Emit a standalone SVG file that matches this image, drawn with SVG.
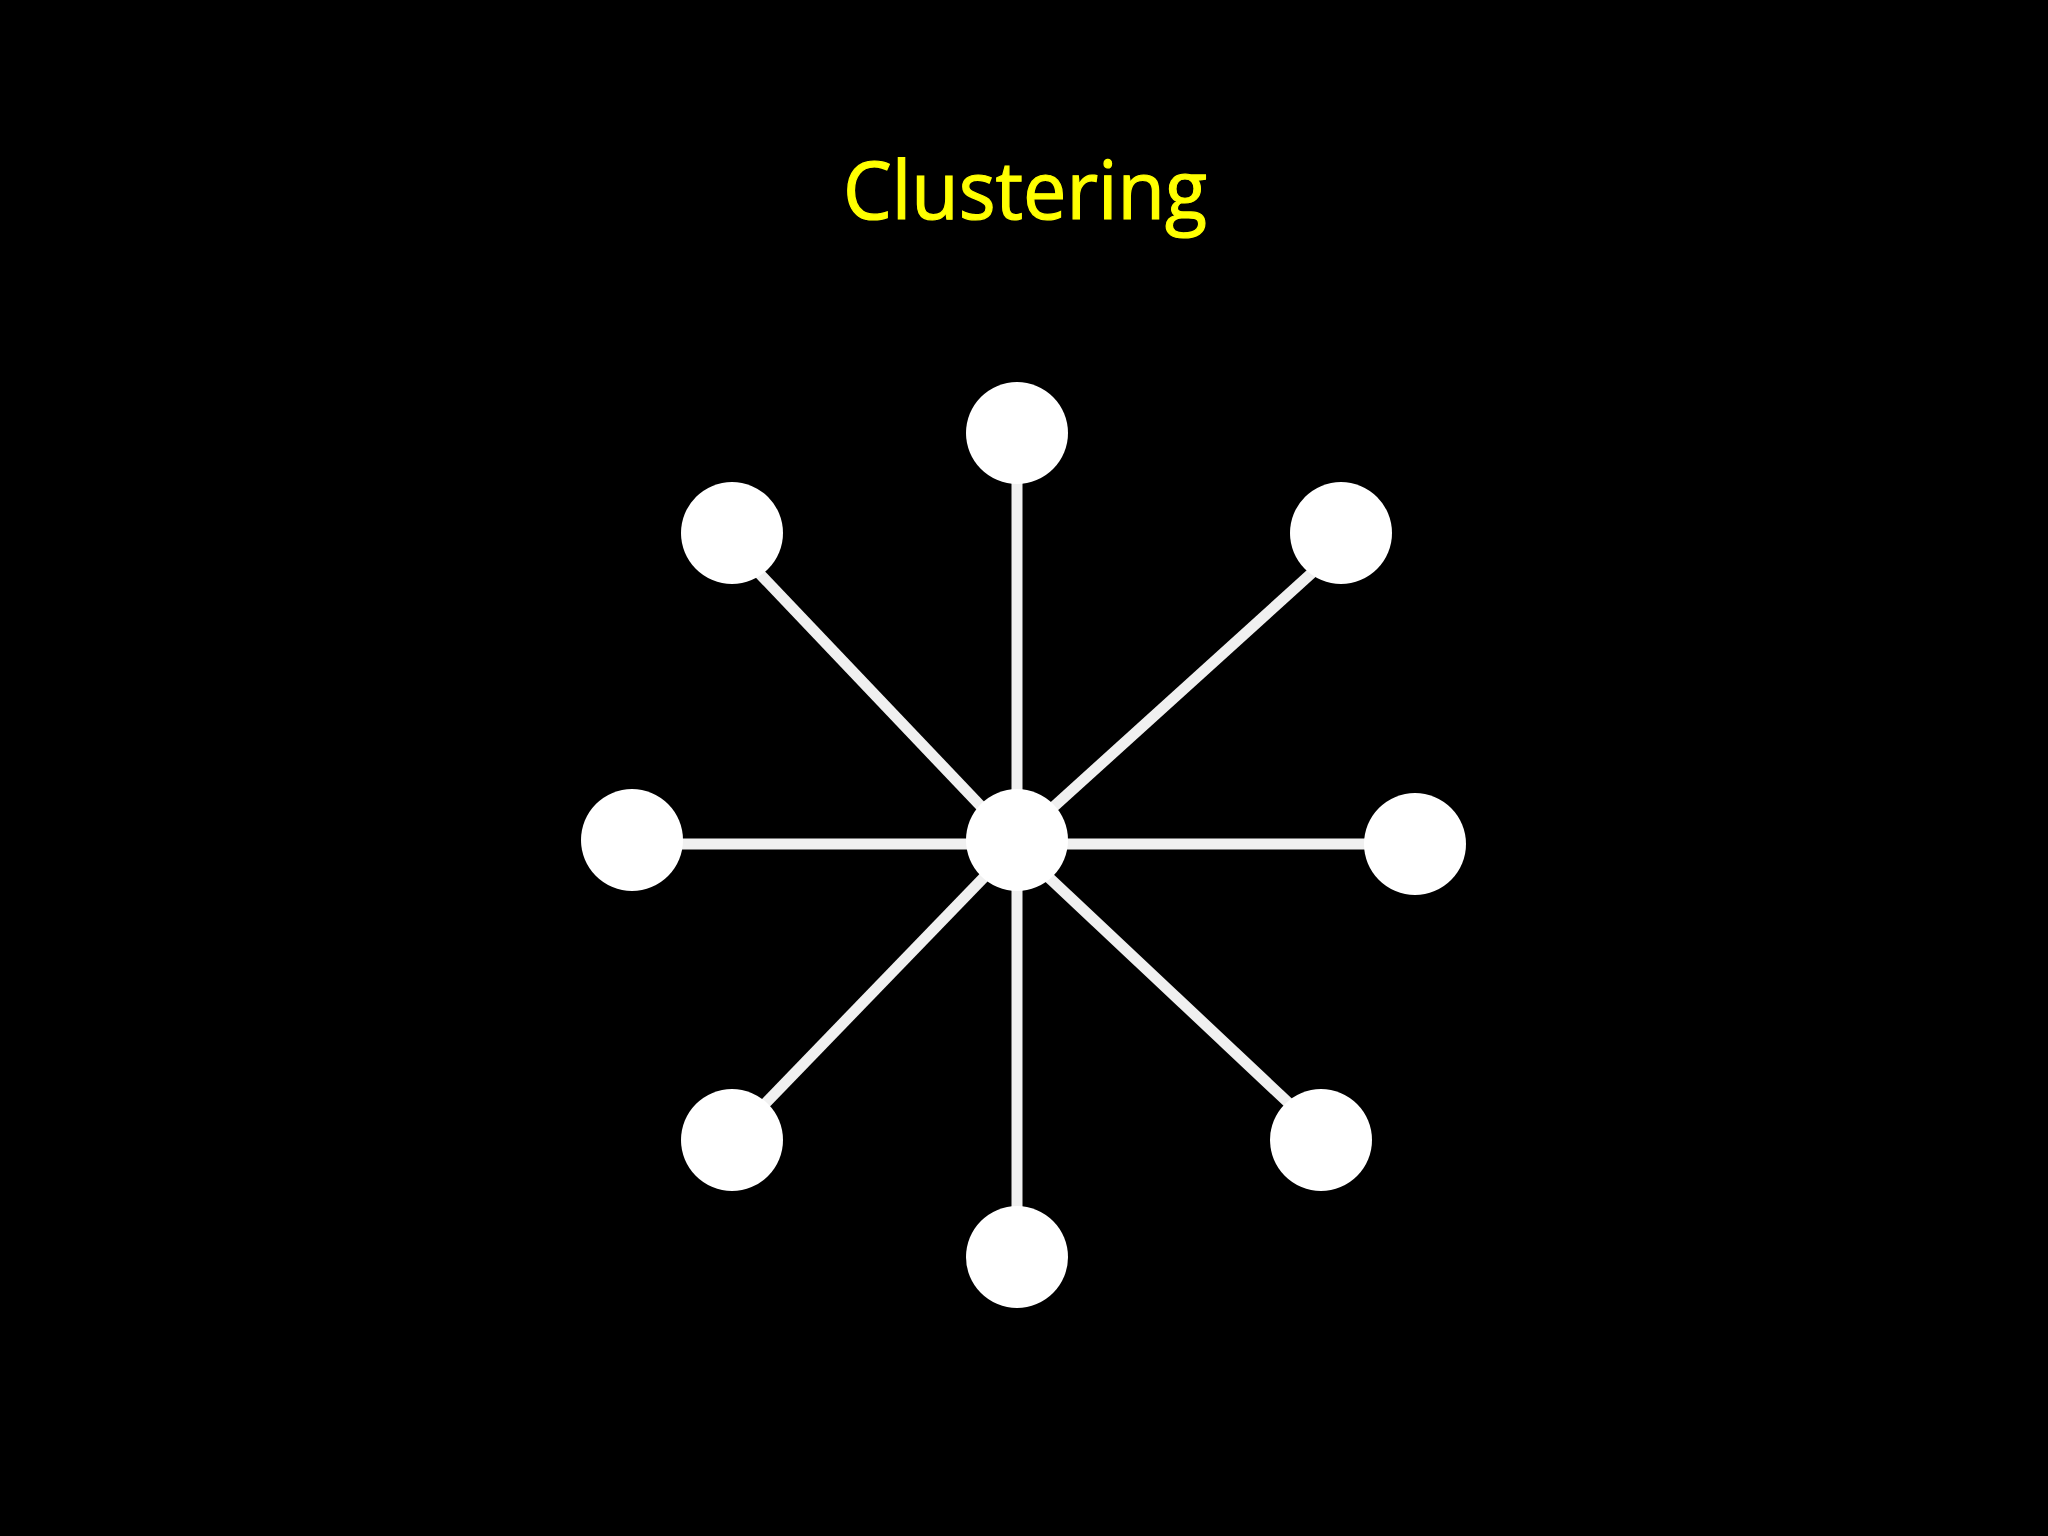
<svg xmlns="http://www.w3.org/2000/svg" width="2048" height="1536" viewBox="0 0 2048 1536">
<style>
.edge{stroke:#f0f0f0;stroke-width:11;fill:none}
.node{fill:#ffffff}
.title{font-family:"Open Sans","Liberation Sans",sans-serif;font-size:80px;fill:#ffff00;stroke:#ffff00;stroke-width:1.2}
</style>
<rect width="2048" height="1536" fill="#000000"/>
<text class="title" x="1025" y="219" text-anchor="middle" textLength="364" lengthAdjust="spacingAndGlyphs">Clustering</text>
<g id="connectors">
<line class="edge" x1="632" y1="844" x2="1415" y2="844"/>
<line class="edge" x1="1017" y1="433" x2="1017" y2="1257"/>
<line class="edge" x1="721" y1="533" x2="1013" y2="840"/>
<line class="edge" x1="1356" y1="533" x2="1017" y2="840"/>
<line class="edge" x1="730" y1="1140" x2="1020" y2="840"/>
<line class="edge" x1="1328" y1="1140" x2="1009" y2="840"/>
</g>
<g id="node-center"><circle class="node" cx="1017" cy="840" r="51"/></g>
<g id="node-top"><circle class="node" cx="1017" cy="433" r="51"/></g>
<g id="node-top-left"><circle class="node" cx="732" cy="533" r="51"/></g>
<g id="node-top-right"><circle class="node" cx="1341" cy="533" r="51"/></g>
<g id="node-left"><circle class="node" cx="632" cy="840" r="51"/></g>
<g id="node-right"><circle class="node" cx="1415" cy="844" r="51"/></g>
<g id="node-bottom-left"><circle class="node" cx="732" cy="1140" r="51"/></g>
<g id="node-bottom"><circle class="node" cx="1017" cy="1257" r="51"/></g>
<g id="node-bottom-right"><circle class="node" cx="1321" cy="1140" r="51"/></g>
</svg>
